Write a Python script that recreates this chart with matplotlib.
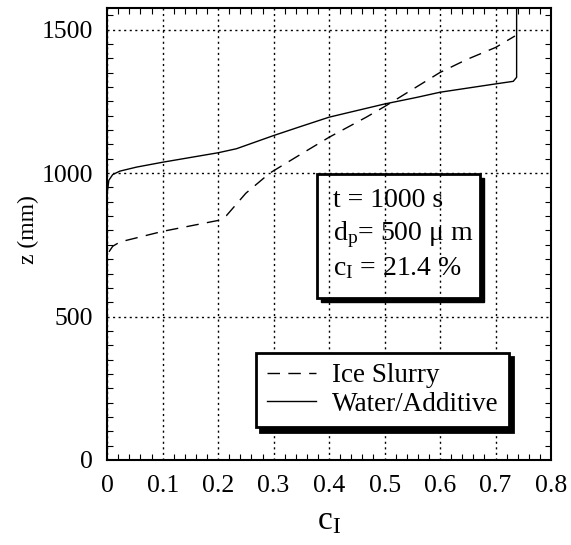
import matplotlib
matplotlib.use("Agg")
import matplotlib.pyplot as plt
from matplotlib.patches import Rectangle
from matplotlib.ticker import MultipleLocator

plt.rcParams['font.family'] = ['Liberation Serif', 'DejaVu Serif']
plt.rcParams['mathtext.fontset'] = 'custom'
plt.rcParams['mathtext.rm'] = 'Liberation Serif'
plt.rcParams['mathtext.it'] = 'Liberation Serif:italic'

# Water/Additive (solid)
water_c = [0, 0, 0.003, 0.01, 0.023, 0.053, 0.1, 0.2, 0.233, 0.3, 0.348, 0.4,
           0.5, 0.558, 0.6, 0.7, 0.732, 0.738, 0.738]
water_z = [0, 930, 975, 995, 1007, 1021, 1038, 1071, 1085, 1131, 1162, 1195,
           1241, 1264, 1282, 1311, 1320, 1334, 1575]

# Ice Slurry (dashed)
ice_c = [0, 0, 0.003, 0.01, 0.023, 0.1, 0.2, 0.215, 0.25, 0.293, 0.35, 0.4,
         0.467, 0.5, 0.6, 0.648, 0.7, 0.735]
ice_z = [0, 690, 725, 745, 760, 797, 835, 852, 930, 1000, 1067, 1125,
         1195, 1232, 1351, 1396, 1438, 1478]

xticks = [0, 0.1, 0.2, 0.3, 0.4, 0.5, 0.6, 0.7, 0.8]
xticklabels = ['0', '0.1', '0.2', '0.3', '0.4', '0.5', '0.6', '0.7', '0.8']
yticks = [0, 500, 1000, 1500]
yticklabels = ['0', '500', '1000', '1500']

fig = plt.figure(figsize=(5.71, 5.45), dpi=100)
ax = fig.add_axes([0.1877, 0.156, 0.7773, 0.829])

ax.plot(ice_c, ice_z, color='black', lw=1.0, dashes=(9, 6), label='Ice Slurry')
ax.plot(water_c, water_z, color='black', lw=1.0, label='Water/Additive')

ax.set_xlim(0, 0.8)
ax.set_ylim(0, 1575)
ax.set_xticks(xticks)
ax.set_xticklabels(xticklabels)
ax.set_yticks(yticks)
ax.set_yticklabels(yticklabels)
ax.xaxis.set_minor_locator(MultipleLocator(0.02))
ax.yaxis.set_minor_locator(MultipleLocator(50))
ax.tick_params(which='both', direction='in', top=True, right=True)
ax.tick_params(which='major', length=0, labelsize=18.5)
ax.tick_params(axis='x', which='major', pad=11)
ax.tick_params(axis='y', which='major', pad=10)
ax.tick_params(which='minor', length=4, width=0.8)
ax.set_axisbelow('line')
ax.grid(True, which='major', color='black', linestyle=(0, (1.5, 2.5)), lw=1.0)
for s in ax.spines.values():
    s.set_linewidth(1.5)

ax.set_ylabel('z (mm)', fontsize=17, labelpad=1)
ax.yaxis.set_label_coords(-0.153, 0.51)
ax.set_xlabel('c$_\\mathrm{I}$', fontsize=24, labelpad=6)

# text box with shadow
bx0, by0, bw, bh = 0.473, 0.358, 0.367, 0.275
ax.add_patch(Rectangle((bx0 + 0.008, by0 - 0.008), bw, bh, transform=ax.transAxes,
                       facecolor='black', edgecolor='black', zorder=1.0))
ax.add_patch(Rectangle((bx0, by0), bw, bh, transform=ax.transAxes,
                       facecolor='white', edgecolor='black', lw=2, zorder=1.1))
ax.text(0.508, 0.575, 't = 1000 s', transform=ax.transAxes, fontsize=20, va='center', zorder=3)
ax.text(0.508, 0.498, 'd$_\\mathrm{p}$= 500 μ m', transform=ax.transAxes, fontsize=20, va='center', zorder=3)
ax.text(0.508, 0.425, 'c$_\\mathrm{I}$ = 21.4 %', transform=ax.transAxes, fontsize=20, va='center', zorder=3)

leg = ax.legend(loc='lower right', bbox_to_anchor=(0.906, 0.072), fontsize=19.5, frameon=True,
                fancybox=False, edgecolor='black', framealpha=1, handlelength=1.8,
                borderpad=0.4, labelspacing=0.12, handletextpad=0.6, borderaxespad=0,
                shadow={'color': 'black', 'alpha': 1, 'ox': 3, 'oy': -3})
leg.get_frame().set_linewidth(2)

fig.savefig('out.png', dpi=100)
